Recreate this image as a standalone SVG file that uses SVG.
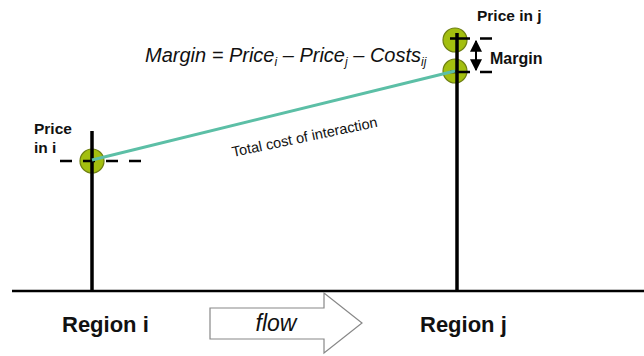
<svg xmlns="http://www.w3.org/2000/svg" width="644" height="356" viewBox="0 0 644 356">
<style>
.lbl{font-family:"Liberation Sans",Arial,sans-serif;font-weight:bold;fill:#111}
.pt{fill:#a3bf0f;stroke:#6e7f12;stroke-width:1.2}
.axis{stroke:#000;stroke-width:3.5;fill:none}
.dash{stroke:#000;stroke-width:2.5;stroke-dasharray:12 11;fill:none}
.tick{stroke:#000;stroke-width:2.5;stroke-dasharray:20 10;fill:none}
.teal{stroke:#5cbfa6;stroke-width:3;fill:none}
</style>
<defs>
<marker id="ah" viewBox="0 0 10 10" refX="9" refY="5" markerWidth="6" markerHeight="6" orient="auto-start-reverse">
<path d="M0,0 L10,5 L0,10 Z" fill="#000"/>
</marker>
</defs>
<g id="baseline"><line x1="12" y1="291" x2="644" y2="291" stroke="#000" stroke-width="2.5"/></g>
<g id="region-i">
<circle class="pt" cx="92" cy="161" r="12"/>
<line class="axis" x1="92" y1="131" x2="92" y2="291"/>
<line class="dash" x1="60" y1="161" x2="141" y2="161"/>
<text class="lbl" x="34" y="134" font-size="15.5">Price</text>
<text class="lbl" x="34" y="153" font-size="15.5">in i</text>
<text class="lbl" x="62" y="332" font-size="22">Region i</text>
</g>
<g id="region-j">
<circle class="pt" cx="455" cy="40" r="12"/>
<circle class="pt" cx="455" cy="71" r="12"/>
<line class="axis" x1="457" y1="33" x2="457" y2="291"/>
<line class="tick" x1="450" y1="38.5" x2="492" y2="38.5"/>
<line class="tick" x1="450" y1="72" x2="492" y2="72"/>
<text class="lbl" x="477" y="21" font-size="15.5">Price in j</text>
<text class="lbl" x="490" y="64" font-size="16">Margin</text>
<text class="lbl" x="420" y="332" font-size="22">Region j</text>
</g>
<g id="connectors">
<line class="teal" x1="92" y1="160" x2="455" y2="71"/>
<line x1="476" y1="41" x2="476" y2="70" stroke="#000" stroke-width="2" marker-start="url(#ah)" marker-end="url(#ah)"/>
</g>
<g id="cost-label">
<text x="233" y="157" font-family="'Liberation Sans',Arial,sans-serif" font-size="14.5" fill="#111" transform="rotate(-11.8 233 157)">Total cost of interaction</text>
</g>
<g id="formula">
<text x="145" y="62" font-family="'Liberation Sans',Arial,sans-serif" font-size="20" font-style="italic" fill="#111">Margin = Price<tspan font-size="12" dy="4">i</tspan><tspan dy="-4"> – Price</tspan><tspan font-size="12" dy="4">j</tspan><tspan dy="-4"> – Costs</tspan><tspan font-size="12" dy="4">ij</tspan></text>
</g>
<g id="flow">
<path d="M210,308 L324,308 L324,293 L362,323 L324,353 L324,339 L210,339 Z" fill="#fff" stroke="#888" stroke-width="1.2"/>
<text x="276" y="331" text-anchor="middle" font-family="'Liberation Sans',Arial,sans-serif" font-size="23" font-style="italic" fill="#111">flow</text>
</g>
</svg>
